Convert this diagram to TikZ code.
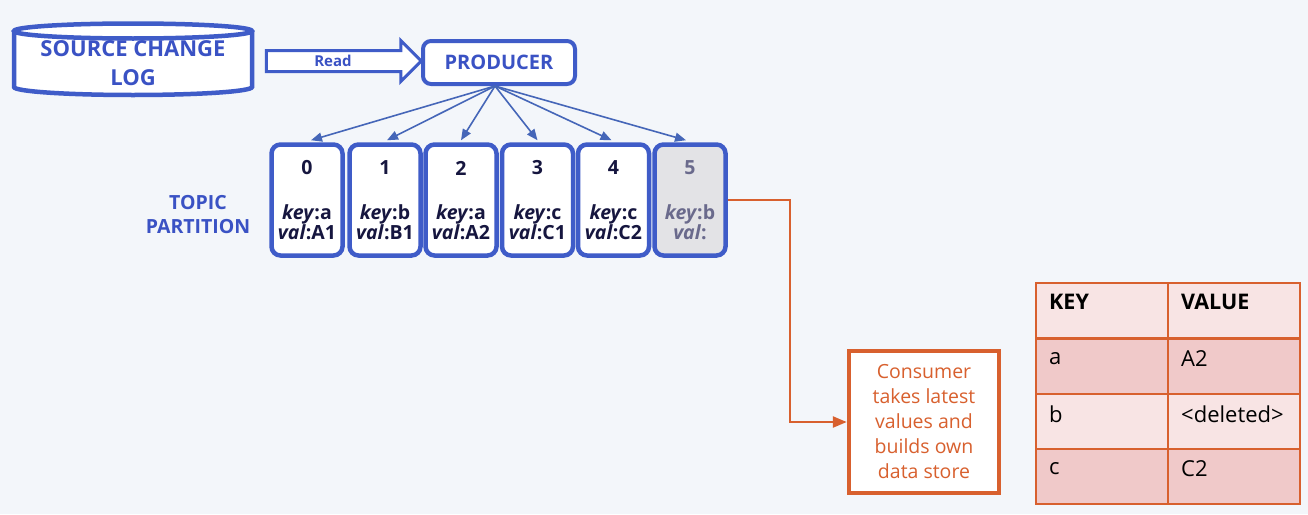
\documentclass[tikz,border=0pt]{standalone}
\usepackage{fontspec}
\setmainfont{Open Sans}
\usetikzlibrary{shapes.geometric,shapes.arrows,arrows.meta}
\definecolor{bg}{HTML}{F3F6FA}
\definecolor{bblue}{HTML}{3F5CC8}
\definecolor{tblue}{HTML}{3A52C4}
\definecolor{ablue}{HTML}{4566B8}
\definecolor{navy}{HTML}{16163F}
\definecolor{gtext}{HTML}{6A6A8C}
\definecolor{gfill}{HTML}{E3E3E6}
\definecolor{orng}{HTML}{D8602E}
\definecolor{pinkL}{HTML}{F8E4E4}
\definecolor{pinkD}{HTML}{F0C9C9}
\tikzset{
  cyl/.style={draw=bblue, line width=4.5pt, fill=white},
  part/.style={draw=bblue, line width=4.5pt, rounded corners=9pt, fill=white, minimum width=71pt, minimum height=111pt, inner sep=0pt},
  ptext/.style={font=\bfseries\fontsize{19.5}{21}\selectfont, text=navy, align=center, inner sep=0pt},
  fan/.style={draw=ablue, line width=1.6pt, -{Triangle[length=11pt,width=9pt]}},
  cell/.style={draw=orng, line width=2pt, minimum width=132pt, minimum height=55pt, inner sep=0pt},
  celltext/.style={anchor=west, font=\fontsize{22}{26}\selectfont, text=black, inner sep=0pt}
}
\begin{document}
\begin{tikzpicture}[x=1pt,y=-1pt]
\useasboundingbox (0,0) rectangle (1308,514);
\fill[bg] (0,0) rectangle (1308,514);
% cylinder (drawn shape)
\filldraw[cyl] (14,31) -- (14,87) arc[start angle=180, end angle=0, x radius=119, y radius=8] -- (252,31);
\filldraw[cyl] (133,31) ellipse[x radius=119, y radius=7.5];
\node[font=\bfseries\fontsize{22}{29}\selectfont, text=tblue, align=center, inner sep=0pt] (src) at (133,63) {SOURCE CHANGE\\LOG};
% producer
\node[draw=bblue, line width=4pt, rounded corners=8pt, fill=white, minimum width=152pt, minimum height=43pt, inner sep=0pt,
  font=\bfseries\fontsize{20}{22}\selectfont, text=tblue] (prod) at (499,62.5) {PRODUCER};
% read arrow
\node[single arrow, draw=bblue, line width=3pt, fill=white, minimum height=155pt, minimum width=38pt,
  inner xsep=0pt, inner ysep=9pt, single arrow head extend=10pt, single arrow tip angle=90, anchor=center] (read) at (338.5,61) {};
\node[font=\bfseries\fontsize{15}{17}\selectfont, text=tblue, inner sep=0pt] (readl) at (333,60.5) {Read};
% partitions
\foreach \i/\x/\k/\v in {0/307/a/A1,1/385/b/B1,2/461/a/A2,3/537.5/c/C1,4/613.5/c/C2}{
  \node[part] (p\i) at (\x,200) {};
  \node[ptext] (n\i) at (\x,168) {\i};
  \node[ptext] (kv\i) at (\x,222) {\textit{key}:\k\\[-1pt]\textit{val}:\v};
}
\node[part, fill=gfill] (p5) at (690,200) {};
\node[ptext, text=gtext] (n5) at (690,168) {5};
\node[ptext, text=gtext] (kv5) at (690,222) {\textit{key}:b\\[-1pt]\textit{val}:};
\node[font=\bfseries\fontsize{19.5}{24}\selectfont, text=tblue, align=center, inner sep=0pt] (tp) at (198,215) {TOPIC\\PARTITION};
% fan arrows
\coordinate (o) at (495,86);
\foreach \i/\dx in {0/4,1/2,2/0,3/0,4/-2,5/-4}{
  \draw[fan] (o) -- ([xshift=\dx pt,yshift=2pt]p\i.north);
}
% consumer
\node[draw=orng, line width=4.5pt, fill=white, minimum width=150pt, minimum height=142pt, inner sep=0pt,
  font=\fontsize{19.5}{25}\selectfont, text=orng, align=center] (cons) at (924,422) {Consumer\\takes latest\\values and\\builds own\\data store};
\draw[draw=orng, line width=2.5pt, -{Triangle[length=14pt,width=11pt]}] (p5.east |- 0,200) -- (790,200) |- (cons.west);
% table
\foreach \r/\y/\f in {0/310.5/pinkL,1/366/pinkD,2/421.5/pinkL,3/476/pinkD}{
  \node[cell, fill=\f] (k\r) at (1102,\y) {};
  \node[cell, fill=\f] (v\r) at (1234,\y) {};
}
\node[celltext, font=\bfseries\fontsize{21.5}{26}\selectfont] (hk) at (1049,302) {KEY};
\node[celltext, font=\bfseries\fontsize{21.5}{26}\selectfont] (hv) at (1181,302) {VALUE};
\node[celltext] (ka) at (1049,359) {a};
\node[celltext] (va) at (1181,359) {A2};
\node[celltext] (kb) at (1049,414) {b};
\node[celltext] (vb) at (1181,414) {<deleted>};
\node[celltext] (kc) at (1049,469) {c};
\node[celltext] (vc) at (1181,469) {C2};
\end{tikzpicture}
\end{document}
